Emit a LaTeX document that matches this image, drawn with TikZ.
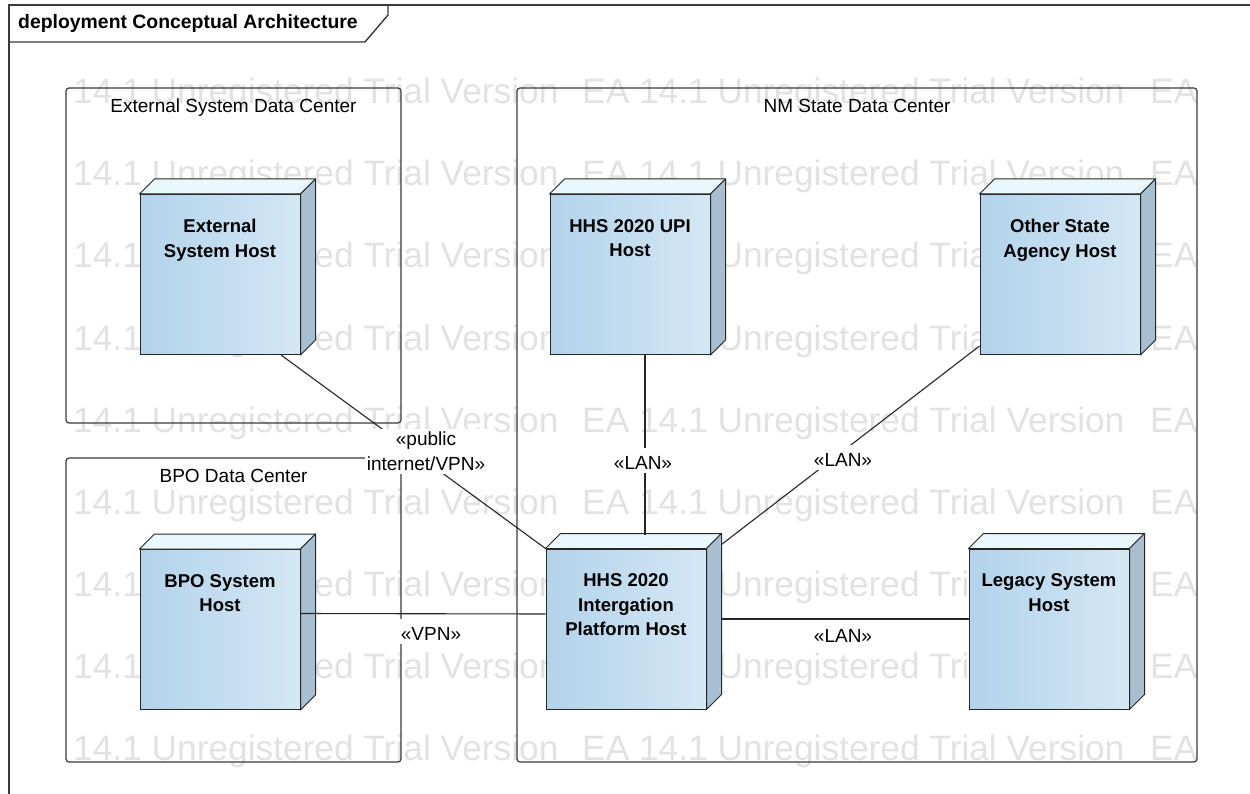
\documentclass[tikz,border=0pt]{standalone}
\usepackage{fontspec}
\setmainfont{Liberation Sans}
\usetikzlibrary{calc}
\definecolor{wmgray}{HTML}{E2E2E2}
\definecolor{lineclr}{HTML}{3A3A3A}
\definecolor{hostL}{HTML}{B2D3EB}
\definecolor{hostR}{HTML}{D4E7F4}
\definecolor{hostTop}{HTML}{E9F8FD}
\definecolor{hostSide}{HTML}{A7BFD0}
\definecolor{hostEdge}{HTML}{262626}
\newcommand{\hostfaces}[1]{%
  \filldraw[topface] (#1.north west) -- ++(15,-15) -- ($(#1.north east)+(15,-15)$) -- (#1.north east) -- cycle;
  \filldraw[sideface] (#1.north east) -- ++(15,-15) -- ($(#1.south east)+(15,-15)$) -- (#1.south east) -- cycle;}
\newcommand{\hostnode}[3]{%
  \node[host] (#1) at (#2) {};
  \hostfaces{#1}
  \node[hosttext] (#1-t) at ($(#1.north)+(0,25)$) {#3};}
\begin{document}
\begin{tikzpicture}[x=1pt,y=-1pt,
  frame/.style={draw=lineclr, line width=1.4pt},
  dcbox/.style={draw=lineclr, line width=1.2pt, rounded corners=3pt, inner sep=0},
  dclabel/.style={font=\fontsize{19}{24}\selectfont, anchor=base, inner sep=0},
  host/.style={draw=hostEdge, line width=1pt, left color=hostL, right color=hostR,
    minimum width=160pt, minimum height=160pt, inner sep=0},
  topface/.style={draw=hostEdge, line width=1pt, fill=hostTop, line join=round},
  sideface/.style={draw=hostEdge, line width=1pt, fill=hostSide, line join=round},
  hosttext/.style={font=\bfseries\fontsize{18.5}{24.5}\selectfont, align=center, anchor=north, inner sep=0},
  conn/.style={draw=black!85, line width=1.1pt},
  connlabel/.style={font=\fontsize{19}{25}\selectfont, fill=white, inner xsep=2pt, inner ysep=0pt,
    text height=21pt, text depth=4pt, anchor=base},
  publabel/.style={font=\fontsize{19}{25}\selectfont, fill=white, align=center, inner xsep=2pt,
    inner ysep=3pt, anchor=north},
  wm/.style={font=\fontsize{35.3}{35}\selectfont, text=wmgray, anchor=base west, inner sep=0}
]
\useasboundingbox (0,0) rectangle (1250,794);
\fill[white] (0,0) rectangle (1250,794);

% watermark
\foreach \r in {0,...,8}{
  \node[wm] (wm-\r-a) at (73,{104+82*\r}) {14.1 Unregistered Trial Version};
  \node[wm] (wm-\r-b) at (582,{104+82*\r}) {EA 14.1 Unregistered Trial Version};
  \node[wm] (wm-\r-c) at (1150,{104+82*\r}) {EA};
}

% frame and title
\draw[frame] (9,794) -- (9,5) -- (1250,5);
\draw[frame] (9,42) -- (365,42) -- (388,15) -- (388,5);
\node[font=\bfseries\fontsize{19.4}{23}\selectfont, anchor=base west, inner sep=0] (title) at (18,29) {deployment Conceptual Architecture};

% data centers
\node[dcbox, minimum width=335pt, minimum height=335pt] (esdc) at (233.5,255.5) {};
\node[dclabel] (esdc-l) at ($(esdc.north)+(0,25)$) {External System Data Center};
\node[dcbox, minimum width=335pt, minimum height=304pt] (bpodc) at (233.5,610) {};
\node[dclabel] (bpodc-l) at ($(bpodc.north)+(0,25)$) {BPO Data Center};
\node[dcbox, minimum width=680pt, minimum height=674pt] (nmdc) at (857,425) {};
\node[dclabel] (nmdc-l) at ($(nmdc.north)+(0,25)$) {NM State Data Center};

% hosts
\hostnode{ext}{220,274.5}{External\\System Host}
\hostnode{upi}{630,274.5}{HHS 2020 UPI\\Host}
\hostnode{oth}{1060,274.5}{Other State\\Agency Host}
\hostnode{bpo}{220,629.5}{BPO System\\Host}
\hostnode{integ}{626,629}{HHS 2020\\Intergation\\Platform Host}
\hostnode{leg}{1049,629}{Legacy System\\Host}

% connectors
\draw[conn] ($(ext.south)+(61,0)$) -- (integ.north west);
\draw[conn] ($(upi.south)+(15,0)$) -- ($(integ.north)+(19,-14)$);
\draw[conn] ($(oth.south west)+(0,-9)$) -- ($(integ.north east)+(15,-4)$);
\draw[conn] ($(bpo.east)+(0,-16)$) -- ($(integ.west)+(0,-15)$);
\draw[conn] ($(integ.east)+(15,-10)$) -- ($(leg.west)+(0,-10)$);

% connector labels
\node[publabel] (l-pub) at (426,429) {«public\\internet/VPN»};
\node[connlabel] (l-lan1) at (643,469) {«LAN»};
\node[connlabel] (l-lan2) at (843,466) {«LAN»};
\node[connlabel] (l-vpn) at (431,640) {«VPN»};
\node[connlabel] (l-lan3) at (843,642) {«LAN»};
\end{tikzpicture}
\end{document}
